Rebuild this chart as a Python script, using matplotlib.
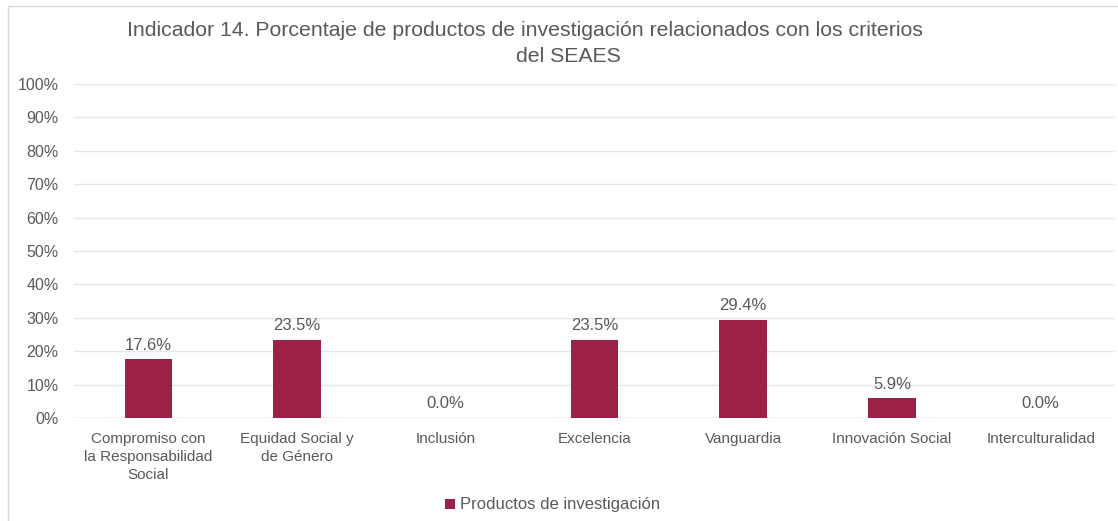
import matplotlib
matplotlib.use('Agg')
import matplotlib.pyplot as plt
from matplotlib.patches import Rectangle

# Datos del indicador 14
categorias = ['Compromiso con\nla Responsabilidad\nSocial', 'Equidad Social y\nde Género', 'Inclusión',
              'Excelencia', 'Vanguardia', 'Innovación Social', 'Interculturalidad']
valores = [17.6, 23.5, 0.0, 23.5, 29.4, 5.9, 0.0]
serie = 'Productos de investigación'
ticks_y = [0, 10, 20, 30, 40, 50, 60, 70, 80, 90, 100]

COLOR = '#9b2246'
GRIS = '#595959'

W, H = 1118, 521
fig = plt.figure(figsize=(W / 100, H / 100), dpi=100)
plt.rcParams['font.family'] = ['Liberation Sans', 'DejaVu Sans']

# Marco exterior del grafico
fig.patches.append(Rectangle((8 / W, -0.01), 1.2, (H - 6) / H + 0.01, transform=fig.transFigure,
                             fill=False, edgecolor='#d9d9d9', linewidth=1))

ax = fig.add_axes([74 / W, 103 / H, 1041 / W, 334 / H])
x = list(range(len(categorias)))
ax.bar(x, valores, width=0.32, color=COLOR, label=serie, zorder=3)

for xi, v in zip(x, valores):
    ax.text(xi, v + 2.0, f'{v:.1f}%', ha='center', va='bottom', fontsize=12, color=GRIS)

ax.set_xlim(-0.5, len(categorias) - 0.5)
ax.set_ylim(0, 100)
ax.set_yticks(ticks_y)
ax.set_yticklabels([f'{t}%' for t in ticks_y])
ax.set_xticks(x)
ax.set_xticklabels(categorias, fontsize=11, color=GRIS, linespacing=1.38)
ax.tick_params(axis='y', labelsize=11.5, colors=GRIS, length=0, pad=11)
ax.tick_params(axis='x', length=0, pad=10)
ax.grid(axis='y', color='#e6e6e6', linewidth=1, zorder=0)
for s in ax.spines.values():
    s.set_visible(False)
ax.axhline(0, color='#d9d9d9', linewidth=1, zorder=2)

fig.text(525 / W, 1 - 30 / H, 'Indicador 14. Porcentaje de productos de investigación relacionados con los criterios',
         ha='center', va='center', fontsize=15.3, color=GRIS)
fig.text(568 / W, 1 - 56 / H, 'del SEAES', ha='center', va='center', fontsize=15.3, color=GRIS)

fig.legend(loc='center', bbox_to_anchor=(553 / W, 1 - 505 / H), frameon=False, fontsize=12,
           handlelength=0.55, handleheight=0.55, handletextpad=0.35, labelcolor=GRIS)

fig.savefig('out.png', dpi=100)
